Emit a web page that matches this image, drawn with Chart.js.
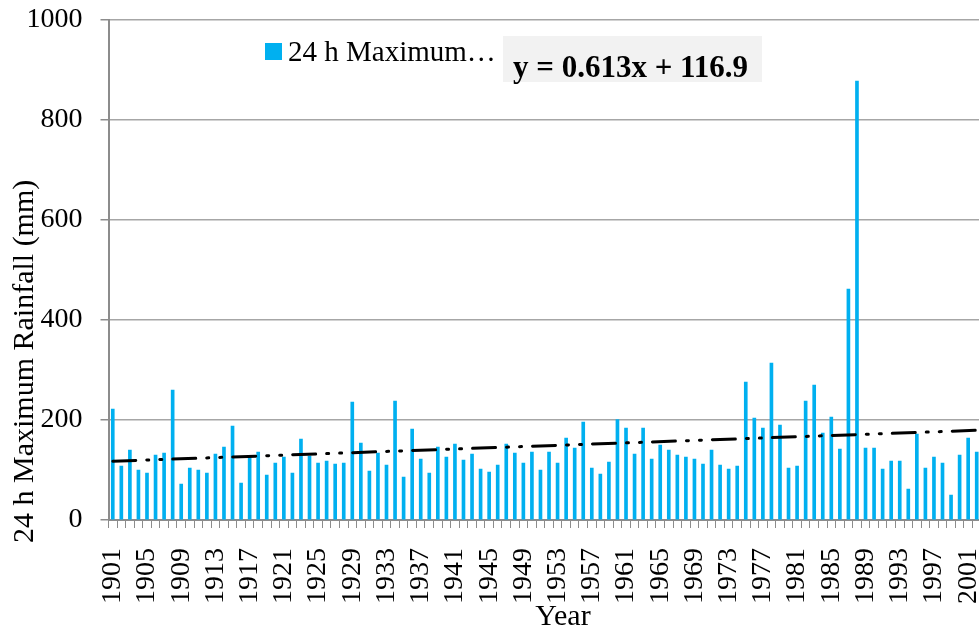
<!DOCTYPE html>
<html>
<head>
<meta charset="utf-8">
<script src="https://cdn.jsdelivr.net/npm/chart.js@4.4.1/dist/chart.umd.min.js"></script>
<style>
  html, body { margin: 0; padding: 0; background: #ffffff; overflow: hidden; }
  #wrap { position: relative; width: 981px; height: 629px; }
</style>
</head>
<body>
<div id="wrap"><canvas id="c" width="981" height="629"></canvas></div>
<script>
// ---- data ----
const firstYear = 1901;
const lastYear = 2002;
const years = [];
for (let y = firstYear; y <= lastYear; y++) years.push(String(y));

const rainfall24h = [
  222, 108, 140, 100, 94, 130, 134, 260, 72, 104,
  100, 94, 132, 146, 188, 74, 125, 136, 90, 114,
  126, 94, 162, 128, 114, 118, 112, 114, 236, 154,
  98, 134, 110, 238, 86, 182, 122, 94, 146, 126,
  152, 120, 132, 102, 96, 110, 152, 134, 114, 136,
  100, 136, 114, 164, 144, 196, 104, 92, 116, 201,
  184, 132, 184, 122, 150, 140, 130, 126, 122, 112,
  140, 110, 102, 108, 276, 204, 184, 314, 190, 104,
  108, 238, 270, 174, 206, 142, 462, 878, 144, 144,
  102, 118, 118, 62, 172, 104, 126, 114, 50, 130,
  164, 136
];

// trend line end points (y = 0.613x + 116.9)
const trendYears = ['1901', '2002'];
const trendValues = [117.5, 179.4];

const yTicks = [0, 200, 400, 600, 800, 1000];

const seriesLabel = '24 h Maximum Rainfall (mm)';
const xTitle = 'Year';
const legendText = '24 h Maximum\u2026';
const equationText = 'y = 0.613x + 116.9';

const FONT = "'Liberation Serif', 'Times New Roman', serif";
const BAR_COLOR = '#00B0F0';
const GRID = '#a6a6a6';
const AXIS = '#8c8c8c';

const overlay = {
  id: 'overlay',
  afterDraw(chart) {
    const ctx = chart.ctx;
    ctx.save();
    // legend
    ctx.fillStyle = BAR_COLOR;
    ctx.fillRect(265, 43, 17, 17);
    ctx.fillStyle = '#000';
    ctx.font = '29px ' + FONT;
    ctx.textBaseline = 'alphabetic';
    ctx.textAlign = 'left';
    ctx.fillText(legendText, 288, 61);
    // trend equation label
    ctx.fillStyle = '#f2f2f2';
    ctx.fillRect(503, 36, 259, 46);
    ctx.fillStyle = '#000';
    ctx.font = 'bold 31px ' + FONT;
    ctx.fillText(equationText, 513, 77);
    // axis titles
    ctx.font = '30px ' + FONT;
    ctx.textAlign = 'center';
    ctx.fillText(xTitle, 563, 625);
    ctx.translate(33, 543);
    ctx.rotate(-Math.PI / 2);
    ctx.textAlign = 'left';
    ctx.fillText(seriesLabel, 0, 0);
    ctx.restore();
  }
};

new Chart(document.getElementById('c'), {
  data: {
    labels: years,
    datasets: [
      {
        type: 'line',
        label: 'Linear trend',
        data: trendYears.map((x, i) => ({ x: x, y: trendValues[i] })),
        borderColor: '#000000',
        borderWidth: 3,
        borderDash: [23, 11, 2, 11, 2, 11],
        borderCapStyle: 'round',
        pointRadius: 0,
        fill: false,
        order: 0
      },
      {
        type: 'bar',
        label: seriesLabel,
        data: rainfall24h,
        backgroundColor: BAR_COLOR,
        borderWidth: 0,
        barThickness: 3,
        order: 1
      }
    ]
  },
  plugins: [overlay],
  options: {
    responsive: false,
    animation: false,
    events: [],
    layout: { padding: { top: 20, right: 0, left: 0, bottom: 0 } },
    plugins: {
      legend: { display: false },
      tooltip: { enabled: false },
      title: { display: false }
    },
    scales: {
      x: {
        type: 'category',
        offset: true,
        grid: {
          display: true,
          drawOnChartArea: false,
          drawTicks: true,
          tickLength: 8,
          tickColor: AXIS,
          tickWidth: 1,
          offset: true
        },
        border: { display: true, color: AXIS, width: 2 },
        ticks: {
          autoSkip: false,
          minRotation: 90,
          maxRotation: 90,
          padding: 20,
          color: '#000',
          font: { family: FONT, size: 28 },
          callback: function (v, i) { return i % 4 === 0 ? years[i] : ''; }
        },
        title: { display: false, text: xTitle },
        afterFit: function (scale) {
          scale.height = 109;
          scale.paddingLeft = 0;
          scale.paddingRight = 0;
        }
      },
      y: {
        min: 0,
        max: 1000,
        afterBuildTicks: function (scale) { scale.ticks = yTicks.map(v => ({ value: v })); },
        grid: {
          color: GRID,
          lineWidth: 1.5,
          drawTicks: true,
          tickLength: 8,
          tickColor: AXIS
        },
        border: { display: true, color: AXIS, width: 2 },
        ticks: {
          padding: 18,
          color: '#000',
          font: { family: FONT, size: 28 },
          callback: function (v) { return String(v); }
        },
        title: { display: false, text: seriesLabel },
        afterFit: function (scale) {
          scale.width = 108.5;
          scale.paddingTop = 0;
          scale.paddingBottom = 0;
        }
      }
    }
  }
});
</script>
</body>
</html>
